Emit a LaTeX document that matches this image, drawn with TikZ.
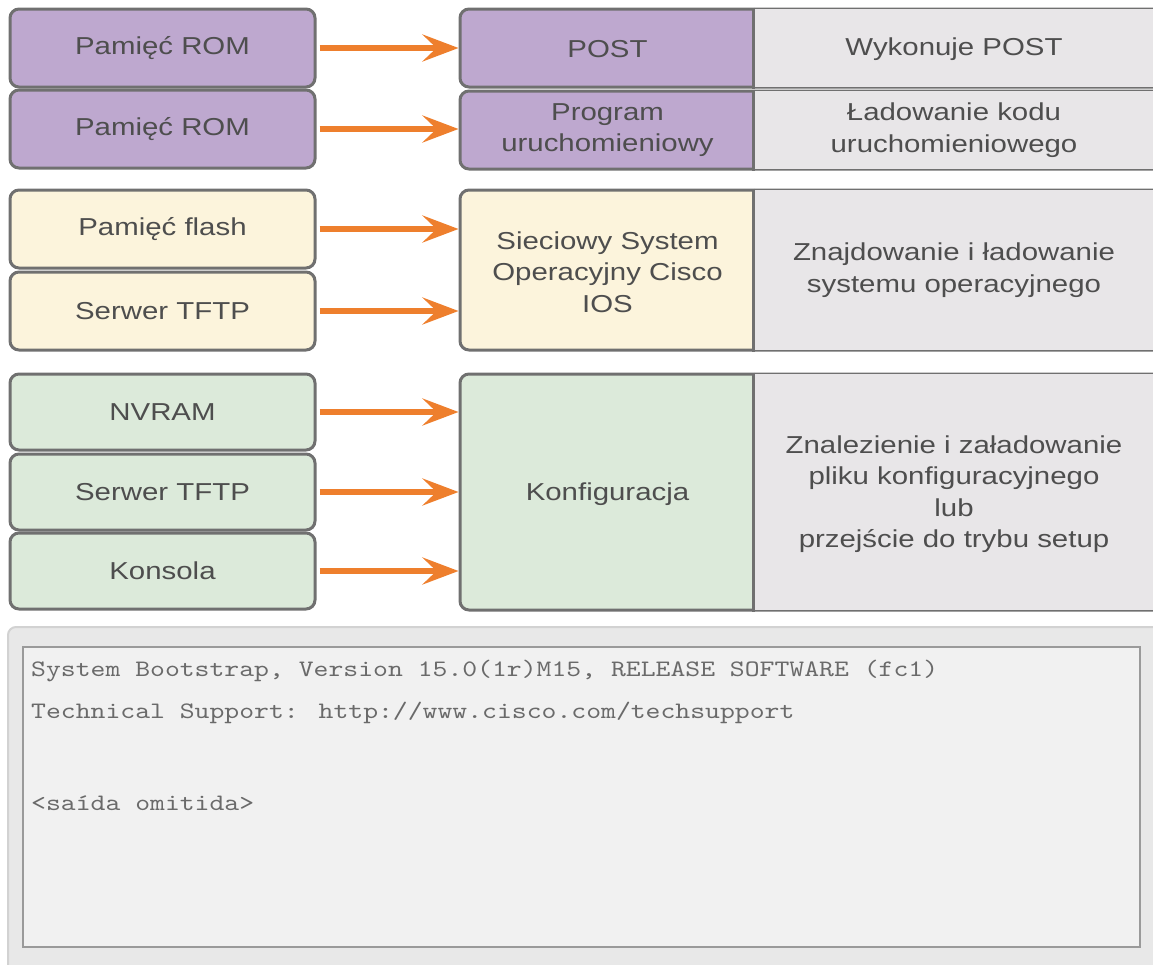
\documentclass[tikz,border=0pt]{standalone}
\usepackage{fontspec}
\setmainfont{Liberation Sans}[FakeStretch=1.2]
\newfontfamily\monofont{lmmono10-regular.otf}[FakeStretch=1.2]
\usetikzlibrary{arrows.meta,calc}
\definecolor{bordc}{HTML}{707070}
\definecolor{txt}{HTML}{4E4E4E}
\definecolor{purp}{HTML}{BEA8CF}
\definecolor{cream}{HTML}{FCF4DC}
\definecolor{mint}{HTML}{DCEADA}
\definecolor{cellgrey}{HTML}{E8E6E8}
\definecolor{arrorange}{HTML}{EE7F2D}
\definecolor{panel}{HTML}{E8E8E8}
\definecolor{panelborder}{HTML}{D2D2D2}
\definecolor{screen}{HTML}{F1F1F1}
\definecolor{screenborder}{HTML}{9A9A9A}
\definecolor{monotxt}{HTML}{6A6A6A}
\tikzset{
  sanstext/.style={font=\fontsize{24.5}{31.5}\selectfont, text=txt, align=center, inner sep=0pt},
  lbox/.style={sanstext, draw=bordc, line width=3pt, rounded corners=9pt,
    minimum width=305pt, minimum height=78pt},
  rframe/.style={draw=bordc, line width=3pt, rounded corners=9pt,
    minimum width=720pt, inner sep=0pt},
  arr/.style={draw=arrorange, line width=6.5pt, shorten <=3pt,
    -{Stealth[length=36pt, width=27pt, inset=14pt]}},
  divider/.style={draw=bordc, line width=3pt},
  monoline/.style={font=\monofont\fontsize{23.6}{28}\selectfont, text=monotxt,
    anchor=base west, inner sep=0pt}
}
\begin{document}
\begin{tikzpicture}[x=1pt,y=-1pt]
\useasboundingbox (0,0) rectangle (1153,964);
\clip (0,0) rectangle (1153,964);

% ---------- group 1 ----------
\node[lbox, fill=purp] (l1) at (162.5,48) {Pamięć ROM};
\node[lbox, fill=purp] (l2) at (162.5,129) {Pamięć ROM};

\node[rframe, fill=purp, minimum height=78pt] (f1) at (820,48) {};
\fill[cellgrey] ($(f1.north west)+(295,1.5)$) rectangle ($(f1.south east)+(0,-1.5)$);
\draw[divider] ($(f1.north west)+(295,0)$) -- ($(f1.south west)+(295,0)$);
\node[sanstext] (r1) at (607.5,49) {POST};
\node[sanstext] (d1) at (954,49) {Wykonuje POST};

\node[rframe, fill=purp, minimum height=78pt] (f2) at (820,130) {};
\fill[cellgrey] ($(f2.north west)+(295,1.5)$) rectangle ($(f2.south east)+(0,-1.5)$);
\draw[divider] ($(f2.north west)+(295,0)$) -- ($(f2.south west)+(295,0)$);
\node[sanstext] (r2) at (607.5,130) {Program\\uruchomieniowy};
\node[sanstext] (d2) at (954,130) {Ładowanie kodu\\uruchomieniowego};

\draw[arr] (l1.east) -- (l1.east -| f1.west);
\draw[arr] (l2.east) -- (l2.east -| f2.west);

% ---------- group 2 ----------
\node[lbox, fill=cream] (l3) at (162.5,229) {Pamięć flash};
\node[lbox, fill=cream] (l4) at (162.5,311) {Serwer TFTP};

\node[rframe, fill=cream, minimum height=160pt] (f3) at (820,270) {};
\fill[cellgrey] ($(f3.north west)+(295,1.5)$) rectangle ($(f3.south east)+(0,-1.5)$);
\draw[divider] ($(f3.north west)+(295,0)$) -- ($(f3.south west)+(295,0)$);
\node[sanstext] (r3) at (607.5,272) {Sieciowy System\\Operacyjny Cisco\\IOS};
\node[sanstext] (d3) at (954,270) {Znajdowanie i ładowanie\\systemu operacyjnego};

\draw[arr] (l3.east) -- (l3.east -| f3.west);
\draw[arr] (l4.east) -- (l4.east -| f3.west);

% ---------- group 3 ----------
\node[lbox, fill=mint, minimum height=76pt] (l5) at (162.5,412) {NVRAM};
\node[lbox, fill=mint, minimum height=76pt] (l6) at (162.5,492) {Serwer TFTP};
\node[lbox, fill=mint, minimum height=76pt] (l7) at (162.5,571) {Konsola};

\node[rframe, fill=mint, minimum height=236pt] (f4) at (820,492) {};
\fill[cellgrey] ($(f4.north west)+(295,1.5)$) rectangle ($(f4.south east)+(0,-1.5)$);
\draw[divider] ($(f4.north west)+(295,0)$) -- ($(f4.south west)+(295,0)$);
\node[sanstext] (r4) at (607.5,494) {Konfiguracja};
\node[sanstext] (d4) at (954,494) {Znalezienie i załadowanie\\pliku konfiguracyjnego\\lub\\przejście do trybu setup};

\draw[arr] (l5.east) -- (l5.east -| f4.west);
\draw[arr] (l6.east) -- (l6.east -| f4.west);
\draw[arr] (l7.east) -- (l7.east -| f4.west);

% ---------- console panel ----------
\draw[fill=panel, draw=panelborder, line width=2pt, rounded corners=8pt] (8,627) rectangle (1175,985);
\draw[fill=screen, draw=screenborder, line width=2.5pt] (23,647) rectangle (1140,947);
\node[monoline] (c1) at (31,676) {System Bootstrap, Version 15.0(1r)M15, RELEASE SOFTWARE (fc1)};
\node[monoline] (c2) at (31,718) {Technical Support: http://www.cisco.com/techsupport};
\node[monoline] (c3) at (31,810) {<saída omitida>};
\end{tikzpicture}
\end{document}
